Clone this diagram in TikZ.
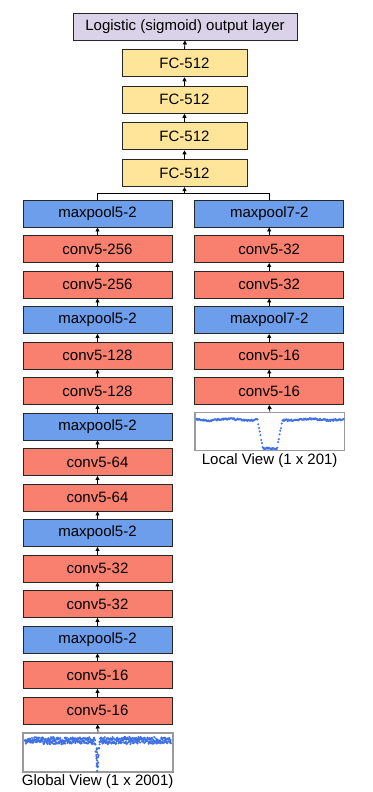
\documentclass[tikz,border=0pt]{standalone}
\usepackage{fontspec}
\setmainfont{Liberation Sans}
\usetikzlibrary{arrows.meta}
\definecolor{bluebox}{HTML}{6D9EEB}
\definecolor{redbox}{HTML}{F9806F}
\definecolor{yellowbox}{HTML}{FFE599}
\definecolor{purplebox}{HTML}{D9D2E9}
\definecolor{dotblue}{HTML}{3F70E4}
\definecolor{framegray}{HTML}{9A9A9A}
\tikzset{
  layer/.style={draw=black!85, line width=0.9pt, minimum height=27pt, inner sep=0pt,
    font=\fontsize{15}{18}\selectfont},
  pool/.style={layer, fill=bluebox, minimum width=149pt},
  conv/.style={layer, fill=redbox, minimum width=149pt},
  fc/.style={layer, fill=yellowbox, minimum width=125pt},
  outbox/.style={layer, fill=purplebox, minimum width=224pt},
  plotbox/.style={draw=framegray, line width=1.4pt, fill=white, inner sep=0pt},
  link/.style={line width=0.8pt, -{Triangle[length=4pt,width=4pt]}},
  caption/.style={anchor=base, inner sep=0pt, font=\fontsize{15}{18}\selectfont},
  dot/.style={fill=dotblue, draw=none}
}
\begin{document}
\begin{tikzpicture}[x=1pt,y=-1pt]
\useasboundingbox (0,0) rectangle (372,792);
\fill[white] (0,0) rectangle (372,792);

% top
\node[outbox] (out) at (185,26.5) {Logistic (sigmoid) output layer};
\node[fc] (fc1) at (184.5,63.3) {FC-512};
\node[fc] (fc2) at (184.5,99.8) {FC-512};
\node[fc] (fc3) at (184.5,136.4) {FC-512};
\node[fc] (fc4) at (184.5,173.2) {FC-512};
\draw[link] (fc1.north) -- (out.south);
\draw[link] (fc2.north) -- (fc1.south);
\draw[link] (fc3.north) -- (fc2.south);
\draw[link] (fc4.north) -- (fc3.south);

% left column
\foreach \n/\t/\s [count=\i from 0] in {
  L0/maxpool5-2/pool, L1/conv5-256/conv, L2/conv5-256/conv,
  L3/maxpool5-2/pool, L4/conv5-128/conv, L5/conv5-128/conv,
  L6/maxpool5-2/pool, L7/conv5-64/conv, L8/conv5-64/conv,
  L9/maxpool5-2/pool, L10/conv5-32/conv, L11/conv5-32/conv,
  L12/maxpool5-2/pool, L13/conv5-16/conv, L14/conv5-16/conv} {
  \node[\s] (\n) at (97.5,{213.5+35.5*\i}) {\t};
}
\foreach \a/\b in {L1/L0,L2/L1,L3/L2,L4/L3,L5/L4,L6/L5,L7/L6,L8/L7,L9/L8,L10/L9,L11/L10,L12/L11,L13/L12,L14/L13}
  \draw[link] (\a.north) -- (\b.south);

% right column
\foreach \n/\t/\s [count=\i from 0] in {
  R0/maxpool7-2/pool, R1/conv5-32/conv, R2/conv5-32/conv,
  R3/maxpool7-2/pool, R4/conv5-16/conv, R5/conv5-16/conv} {
  \node[\s] (\n) at (269.2,{213.5+35.5*\i}) {\t};
}
\foreach \a/\b in {R1/R0,R2/R1,R3/R2,R4/R3,R5/R4}
  \draw[link] (\a.north) -- (\b.south);

% merge bracket
\coordinate (brk) at (184.5,193.3);
\draw[line width=0.8pt] (L0.north) |- (brk) -| (R0.north);
\draw[link] (brk) -- (fc4.south);

% plots
\node[plotbox, minimum width=150pt, minimum height=39pt] (gplot) at (98,752.5) {};
\node[plotbox, minimum width=149.5pt, minimum height=38.4pt] (lplot) at (269.8,431.5) {};
\draw[link] (gplot.north) -- (L14.south);
\draw[link] (lplot.north) -- (R5.south);

\node[caption] (gcap) at (97.7,785.7) {Global View (1 x 2001)};
\node[caption] (lcap) at (269.7,464.3) {Local View (1 x 201)};

% global view dots
\pgfmathsetseed{7}
\foreach \i in {0,...,559} {
  \pgfmathsetmacro\xx{25+\i*0.261}
  \pgfmathsetmacro\yy{740.5+3.2*rand+0.8*rand+29*exp(-((\xx-97.3)/1.4)^2)}
  \fill[dot] (\xx,\yy) circle (1.15pt);
}
\foreach \k in {0,...,13} {
  \pgfmathsetmacro\xx{97+0.8*rand}
  \pgfmathsetmacro\yy{746+24*rnd}
  \fill[dot] (\xx,\yy) circle (1.15pt);
}

% local view dots
\foreach \i in {0,...,200} {
  \pgfmathsetmacro\xx{196.5+\i*0.735}
  \pgfmathsetmacro\f{min(1,max(0,(12.5-abs(\xx-270))/5.5))}
  \pgfmathsetmacro\yy{419.6+0.9*rand+0.7*sin(\xx*9)+29.4*\f}
  \fill[dot] (\xx,\yy) circle (1.15pt);
}
\end{tikzpicture}
\end{document}
